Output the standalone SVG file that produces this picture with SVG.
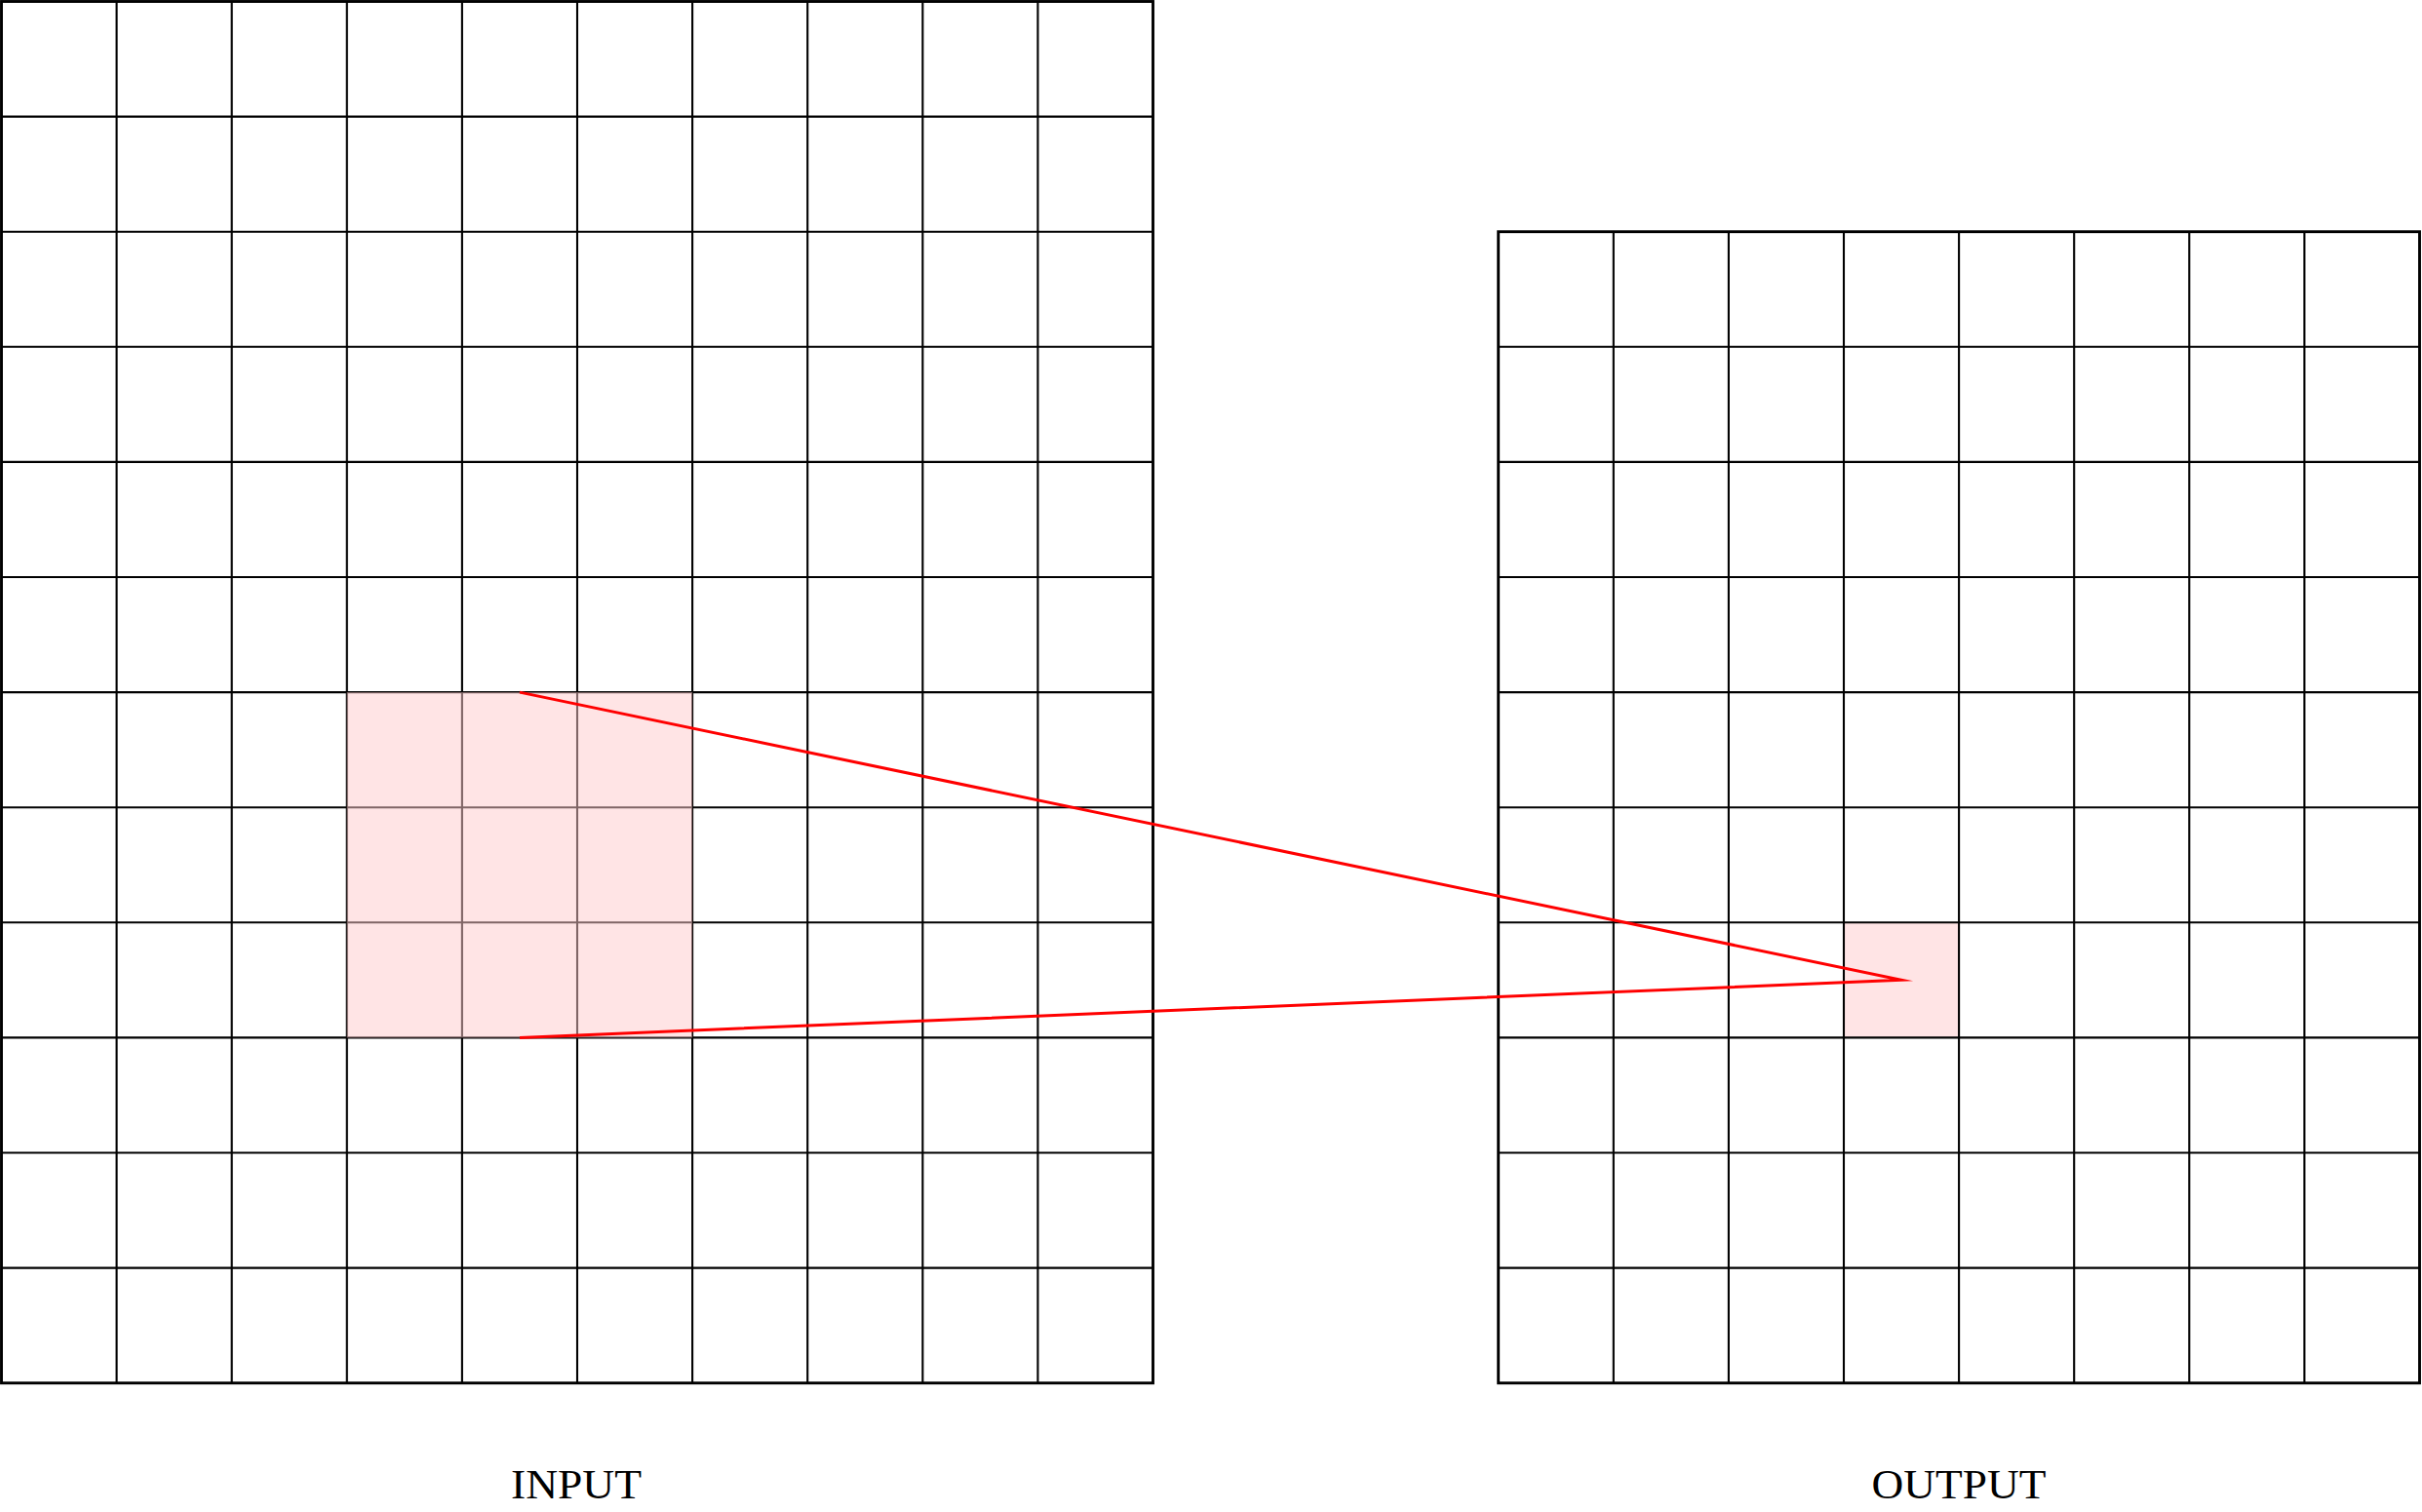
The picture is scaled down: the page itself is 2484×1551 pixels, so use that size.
<svg xmlns="http://www.w3.org/2000/svg" width="2484" height="1551" viewBox="0 0 2484 1551">
<style>
.inner{fill:none;stroke:#000;stroke-width:2.1}
.outer{fill:none;stroke:#000;stroke-width:2.9}
.lbl{font-family:"Liberation Serif","DejaVu Serif",serif;font-size:42px;fill:#000;text-anchor:middle}
.conn{fill:none;stroke:#ff0000;stroke-width:3;stroke-linejoin:miter;stroke-miterlimit:10}
</style>
<rect width="2484" height="1551" fill="#fff"/>
<g id="input">
<path class="inner" d="M119.6 1.5V1418.7M237.7 1.5V1418.7M355.8 1.5V1418.7M473.9 1.5V1418.7M592 1.5V1418.7M710.1 1.5V1418.7M828.2 1.5V1418.7M946.3 1.5V1418.7M1064.4 1.5V1418.7M1.5 119.6H1182.5M1.5 237.7H1182.5M1.5 355.8H1182.5M1.5 473.9H1182.5M1.5 592H1182.5M1.5 710.1H1182.5M1.5 828.2H1182.5M1.5 946.3H1182.5M1.5 1064.4H1182.5M1.5 1182.5H1182.5M1.5 1300.6H1182.5"/>
<rect class="outer" x="1.5" y="1.5" width="1181" height="1417.2"/>
<rect id="input-window" x="355.8" y="710.1" width="354.3" height="354.3" fill="#ffc9cc" fill-opacity="0.5"/>
<text class="lbl" x="591" y="1536.7" textLength="134" lengthAdjust="spacingAndGlyphs">INPUT</text>
</g>
<g id="output">
<rect id="output-cell" x="1891" y="946.3" width="118.1" height="118.1" fill="#ffe4e5"/>
<path class="inner" d="M1654.8 237.7V1418.7M1772.9 237.7V1418.7M1891 237.7V1418.7M2009.1 237.7V1418.7M2127.2 237.7V1418.7M2245.3 237.7V1418.7M2363.4 237.7V1418.7M1536.7 355.8H2481.5M1536.7 473.9H2481.5M1536.7 592H2481.5M1536.7 710.1H2481.5M1536.7 828.2H2481.5M1536.7 946.3H2481.5M1536.7 1064.4H2481.5M1536.7 1182.5H2481.5M1536.7 1300.6H2481.5"/>
<rect class="outer" x="1536.7" y="237.7" width="944.8" height="1181"/>
<text class="lbl" x="2009" y="1536.7" textLength="179" lengthAdjust="spacingAndGlyphs">OUTPUT</text>
</g>
<g id="connectors">
<polyline class="conn" points="533,710.1 1950,1005.3 533,1064.4"/>
</g>
</svg>
